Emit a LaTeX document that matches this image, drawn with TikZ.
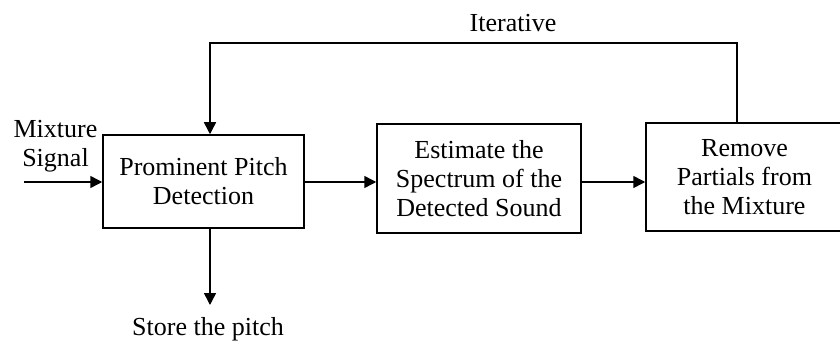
\documentclass[tikz,border=0pt]{standalone}
\usepackage{fontspec}
\setmainfont{Liberation Serif}
\usetikzlibrary{arrows.meta}

\tikzset{
  block/.style={draw, line width=0.75pt, align=center, font=\fontsize{13}{14.5}\selectfont, inner sep=0pt},
  flow/.style={line width=0.75pt, -{Triangle[length=6pt,width=6pt]}},
  lbl/.style={font=\fontsize{13}{14.5}\selectfont, align=center, inner sep=0pt}
}

\begin{document}
\begin{tikzpicture}[x=0.5pt,y=0.5pt]
\useasboundingbox (0,0) rectangle (840,343);
\clip (0,0) rectangle (840,343);

% processing blocks
\node[block, minimum width=100.5pt, minimum height=46.5pt] (det) at (203.5,161.5)
  {Prominent Pitch\\Detection};
\node[block, minimum width=102pt, minimum height=54.5pt] (est) at (479,164.5)
  {Estimate the\\Spectrum of the\\Detected Sound};
\node[block, minimum width=98.5pt, minimum height=54pt] (rem) at (744.5,166)
  {Remove\\Partials from\\the Mixture};

% labels
\node[lbl] (mix) at (55.5,197) {Mixture\\Signal};
\node[lbl] (iter) at (513,320) {Iterative};
\node[lbl, anchor=base] (store) at (208,8) {Store the pitch};

% feedback path and signal points
\coordinate (in) at (24,161);
\coordinate (fbl) at (210,300);
\coordinate (fbr) at (737,300);
\coordinate (out) at (210,38);

\draw[flow] (in) -- (in -| det.west);
\draw[flow] (det.east |- in) -- (in -| est.west);
\draw[flow] (est.east |- in) -- (in -| rem.west);
\draw[flow] (fbr |- rem.north) -- (fbr) -- (fbl) -- (fbl |- det.north);
\draw[flow] (fbl |- det.south) -- (out);
\end{tikzpicture}
\end{document}
